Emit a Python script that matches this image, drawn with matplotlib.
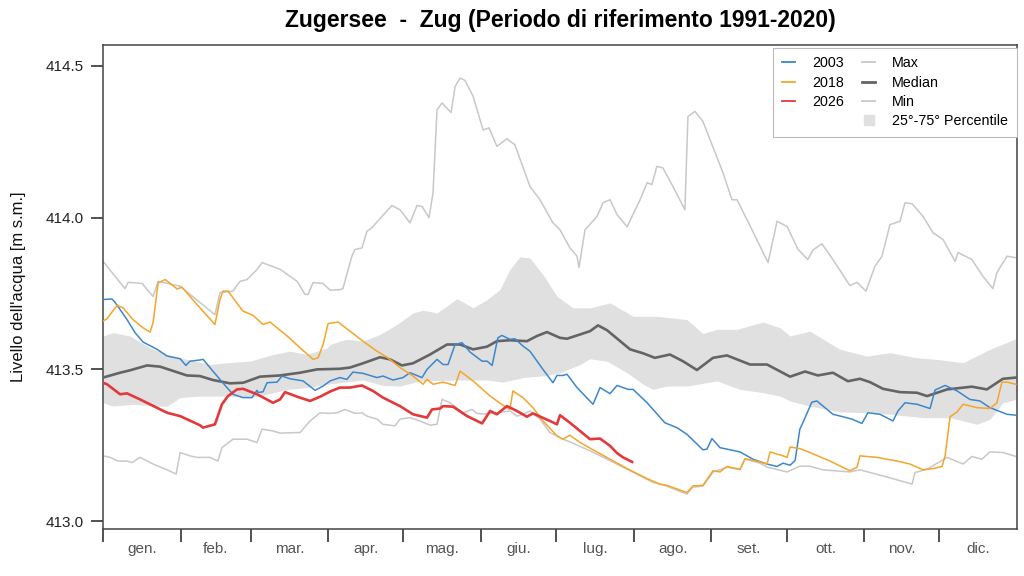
import matplotlib
matplotlib.use("Agg")
import matplotlib.pyplot as plt
from matplotlib.lines import Line2D
import numpy as np

plt.rcParams['font.family'] = ['Liberation Sans', 'DejaVu Sans']

# day of year (0 = 1 gennaio) and lake level [m s.m.]
max_days = [0, 8.8, 10, 15.6, 20, 22, 30.8, 38.8, 44.7, 46.7, 51.9, 54.7, 57.5, 61.5, 63.5,
            70.7, 77.5, 80.7, 81.9, 83.9, 87.9, 90.7, 94.6, 95.8, 99.4, 100.6, 103.4, 105.4,
            107.4, 111.4, 115.4, 118.6, 122.6, 125.4, 127.4, 130.2, 131.8, 133.4, 135.4, 139,
            140.6, 142.6, 144.6, 147.8, 151.8, 154.2, 157.3, 161.3, 164.5, 170.5, 174.5, 179.7,
            182.5, 186.5, 189.3, 190.1, 192.5, 197.3, 199.7, 202.5, 205.3, 209.3, 214.5, 217.3,
            219.2, 221.2, 223.6, 227.6, 232.4, 233.6, 236.4, 239.6, 247.6, 251.2, 253.2, 259.2,
            265.6, 269.2, 273.2, 277.6, 281.5, 283.5, 287.1, 291.5, 298.3, 301.1, 304.7, 308.3,
            311.1, 314.3, 318.3, 320.3, 323.1, 327.5, 331.5, 335.5, 340.3, 341.5, 347, 351.4,
            355.4, 357, 361, 364.6]
max_vals = [413.856, 413.766, 413.787, 413.783, 413.740, 413.790, 413.774, 413.720, 413.680,
            413.753, 413.758, 413.790, 413.796, 413.829, 413.852, 413.830, 413.790, 413.747,
            413.747, 413.786, 413.783, 413.761, 413.763, 413.766, 413.873, 413.895, 413.900,
            413.955, 413.967, 414.004, 414.040, 414.026, 413.983, 414.040, 414.037, 414.000,
            414.082, 414.355, 414.378, 414.346, 414.432, 414.460, 414.452, 414.400, 414.289,
            414.296, 414.235, 414.260, 414.240, 414.103, 414.059, 413.983, 413.960, 413.900,
            413.873, 413.836, 413.960, 414.004, 414.049, 414.059, 414.010, 413.970, 414.059,
            414.115, 414.109, 414.169, 414.164, 414.103, 414.026, 414.333, 414.350, 414.317,
            414.148, 414.059, 414.059, 413.960, 413.852, 413.988, 413.971, 413.895, 413.862,
            413.893, 413.914, 413.862, 413.776, 413.787, 413.758, 413.840, 413.873, 413.977,
            413.988, 414.049, 414.046, 414.004, 413.950, 413.928, 413.856, 413.885, 413.862,
            413.807, 413.766, 413.819, 413.873, 413.868]

min_days = [0, 2.8, 6, 9.6, 11.6, 14.8, 20, 25.6, 29.2, 30.8, 34.7, 37.5, 42.7, 45.9, 47.5,
            51.9, 57.5, 61.5, 63.5, 67.9, 70.7, 78.7, 82.7, 86.7, 90.7, 93.5, 96.7, 100.6,
            103.4, 105.4, 109.4, 111.8, 116.6, 118.6, 122.6, 126.6, 130.6, 133.4, 135.4, 138.6,
            143.8, 147.4, 149.4, 153.4, 157.3, 162.5, 165.3, 167.7, 170.5, 174.5, 178.5, 183.7,
            186.5, 195.7, 209.3, 219.6, 225.2, 233.2, 235.6, 239.6, 243.6, 249.2, 254.4, 256.4,
            262.4, 265.2, 273.2, 278.3, 282.3, 287.5, 298.3, 302.3, 311.5, 323.1, 324.3, 329.1,
            337.1, 343.5, 347.0, 351.0, 354.2, 359.4, 364.6]
min_vals = [413.215, 413.210, 413.198, 413.198, 413.193, 413.210, 413.188, 413.169, 413.155,
            413.226, 413.215, 413.210, 413.210, 413.198, 413.242, 413.270, 413.270, 413.259,
            413.303, 413.297, 413.290, 413.292, 413.330, 413.357, 413.355, 413.357, 413.368,
            413.355, 413.357, 413.346, 413.336, 413.319, 413.314, 413.336, 413.341, 413.330,
            413.316, 413.319, 413.401, 413.390, 413.357, 413.368, 413.355, 413.352, 413.357,
            413.363, 413.346, 413.352, 413.363, 413.336, 413.292, 413.270, 413.261, 413.227,
            413.171, 413.128, 413.115, 413.089, 413.112, 413.115, 413.161, 413.178, 413.169,
            413.204, 413.191, 413.178, 413.162, 413.181, 413.181, 413.169, 413.162, 413.169,
            413.149, 413.122, 413.160, 413.171, 413.210, 413.188, 413.213, 413.204, 413.228,
            413.226, 413.213]

med_days = [0, 6.8, 10.8, 17.6, 22.8, 33.5, 38.7, 43.9, 50.7, 56, 62.7, 70.7, 78.7, 85.5,
            94.6, 98.6, 103.8, 110.6, 114.6, 119.4, 123.8, 130.6, 137.4, 142.6, 147.8, 153.4,
            157.3, 162.5, 169.3, 173.3, 177.3, 182.5, 185.3, 190.5, 194.5, 197.7, 201.3, 210.5,
            215.7, 220.4, 226.4, 231.6, 237.2, 243.6, 249.2, 258.4, 265.2, 274.4, 280.4, 285.5,
            291.5, 297.5, 302.3, 306.3, 311.5, 318.3, 325.1, 329.1, 337.1, 347.0, 353.0, 359.4,
            364.6]
med_vals = [413.473, 413.489, 413.497, 413.513, 413.509, 413.480, 413.478, 413.465, 413.454,
            413.456, 413.476, 413.480, 413.489, 413.500, 413.502, 413.506, 413.520, 413.540,
            413.533, 413.513, 413.520, 413.549, 413.582, 413.582, 413.566, 413.575, 413.593,
            413.596, 413.593, 413.610, 413.623, 413.604, 413.601, 413.615, 413.626, 413.645,
            413.629, 413.566, 413.553, 413.538, 413.549, 413.527, 413.498, 413.538, 413.546,
            413.516, 413.516, 413.476, 413.493, 413.480, 413.489, 413.461, 413.469, 413.458,
            413.436, 413.425, 413.423, 413.412, 413.434, 413.443, 413.434, 413.469, 413.473]

p75_days = [0, 4, 10.8, 18.8, 25.6, 33.5, 42.7, 49.5, 58.7, 67.9, 74.7, 81.5, 89.5, 90.7,
            94.6, 97.4, 103.8, 110.6, 117.4, 123.8, 127.8, 133.4, 141.4, 147.8, 153.4, 158.5,
            162.5, 166.5, 170.5, 175.7, 181.3, 187.7, 194.5, 202.5, 211.7, 221.2, 233.2, 239.6,
            245.2, 253.2, 263.6, 270.4, 274.4, 282.3, 294.3, 305.1, 314.3, 325.1, 333.1, 343.5,
            354.2, 364.6]
p75_vals = [413.610, 413.621, 413.610, 413.571, 413.549, 413.533, 413.516, 413.522, 413.527,
            413.549, 413.560, 413.549, 413.571, 413.582, 413.593, 413.599, 413.593, 413.615,
            413.648, 413.686, 413.695, 413.686, 413.733, 413.703, 413.730, 413.763, 413.829,
            413.871, 413.867, 413.812, 413.741, 413.703, 413.703, 413.719, 413.675, 413.675,
            413.664, 413.618, 413.632, 413.632, 413.656, 413.637, 413.610, 413.626, 413.566,
            413.544, 413.555, 413.538, 413.533, 413.522, 413.566, 413.601]

p25_days = [0, 4, 12, 21.6, 25.6, 30.8, 38.7, 49.5, 58.7, 65.5, 73.5, 81.5, 89.5, 94.6,
            103.8, 111.8, 118.6, 126.6, 141.4, 153.4, 159.7, 167.7, 177.3, 182.5, 190.5, 194.5,
            201.3, 209.3, 215.7, 219.6, 225.2, 233.2, 245.2, 254.4, 262.4, 270.4, 274.4, 282.3,
            294.3, 305.1, 314.3, 327.5, 338.3, 349.0, 354.2, 359.4, 364.6]
p25_vals = [413.390, 413.379, 413.385, 413.379, 413.379, 413.407, 413.412, 413.412, 413.407,
            413.418, 413.434, 413.440, 413.451, 413.456, 413.465, 413.447, 413.445, 413.462,
            413.465, 413.465, 413.458, 413.473, 413.480, 413.489, 413.516, 413.535, 413.527,
            413.489, 413.451, 413.434, 413.445, 413.445, 413.462, 413.434, 413.425, 413.412,
            413.396, 413.379, 413.360, 413.357, 413.352, 413.341, 413.341, 413.319, 413.336,
            413.390, 413.401]

y2003_days = [0, 3.6, 4.8, 9.6, 12.8, 16, 21.6, 25.6, 30.8, 33.1, 34.7, 38.7, 40, 43.9, 49.5,
              51.9, 55.9, 59.5, 61.5, 61.9, 63.9, 65.5, 69.5, 71.5, 74.7, 79.9, 84.7, 87.9,
              90.7, 94.6, 97.4, 99.8, 103.8, 109.4, 111.8, 115.8, 119.8, 122.6, 127.4, 129.4,
              133.4, 135.8, 137.8, 140.6, 143.4, 146.6, 151.4, 153.4, 155.4, 157.7, 159.3,
              162.5, 164.5, 167.7, 170.5, 175.7, 179.7, 181.3, 183.7, 185.3, 189.3, 195.7,
              198.5, 202.5, 205.3, 207.7, 209.7, 211.7, 217.3, 224.4, 229.2, 233.2, 239.6,
              241.2, 243.2, 246.4, 250.4, 254.4, 259.6, 265.2, 269.2, 271.6, 274.4, 276.4,
              278.3, 279.5, 283.1, 285.1, 291.5, 295.5, 299.1, 303.1, 305.5, 310.3, 315.5,
              317.5, 320.3, 325.1, 330.3, 332.3, 336.3, 341.1, 346.2, 350.2, 354.2, 361.0,
              364.6]
y2003_vals = [413.730, 413.732, 413.721, 413.664, 413.621, 413.590, 413.566, 413.544, 413.535,
              413.513, 413.527, 413.531, 413.533, 413.494, 413.440, 413.418, 413.407, 413.407,
              413.431, 413.424, 413.426, 413.456, 413.458, 413.478, 413.469, 413.462, 413.431,
              413.445, 413.462, 413.473, 413.467, 413.491, 413.487, 413.473, 413.478, 413.465,
              413.473, 413.489, 413.473, 413.500, 413.533, 413.516, 413.516, 413.582, 413.588,
              413.557, 413.527, 413.527, 413.513, 413.604, 413.612, 413.599, 413.601, 413.577,
              413.560, 413.500, 413.456, 413.480, 413.480, 413.484, 413.440, 413.385, 413.440,
              413.420, 413.447, 413.440, 413.434, 413.434, 413.390, 413.324, 413.308, 413.286,
              413.235, 413.237, 413.272, 413.242, 413.235, 413.228, 413.204, 413.188, 413.180,
              413.191, 413.184, 413.200, 413.303, 413.324, 413.392, 413.396, 413.352, 413.344,
              413.336, 413.322, 413.357, 413.352, 413.330, 413.363, 413.390, 413.385, 413.371,
              413.432, 413.447, 413.429, 413.401, 413.396, 413.374, 413.352, 413.349]

y2018_days = [0, 1.6, 5.6, 8, 12, 16, 18.8, 20, 22, 24.8, 29.6, 31.5, 37.5, 44.7, 46.7, 47.9,
              49.9, 55.9, 59.9, 63.9, 66.7, 73.5, 78.7, 83.9, 85.9, 87.9, 89.9, 93.9, 98.6,
              103.8, 109.4, 113.8, 118.6, 123.8, 127.8, 129.4, 131.8, 135.8, 140.6, 142.6,
              147.8, 154.6, 159.7, 162.5, 163.7, 167.7, 171.7, 175.7, 181.3, 183.7, 186.5,
              190.5, 195.7, 202.5, 209.3, 217.3, 222.4, 225.2, 233.2, 235.6, 239.6, 243.6,
              246.4, 249.2, 254.4, 256.4, 262.4, 265.2, 266.4, 271.6, 273.2, 274.4, 278.3,
              282.3, 290.3, 298.3, 301.1, 302.3, 309.1, 317.1, 322.3, 327.5, 331.5, 335.1,
              336.3, 338.3, 341.1, 343.5, 349.0, 354.2, 357.0, 359.0, 361.0, 364.6]
y2018_vals = [413.659, 413.667, 413.711, 413.703, 413.664, 413.637, 413.623, 413.654, 413.785,
              413.796, 413.765, 413.771, 413.714, 413.648, 413.730, 413.758, 413.758, 413.692,
              413.678, 413.648, 413.656, 413.610, 413.571, 413.533, 413.538, 413.582, 413.651,
              413.656, 413.626, 413.593, 413.560, 413.538, 413.506, 413.478, 413.451, 413.467,
              413.451, 413.458, 413.447, 413.494, 413.462, 413.412, 413.382, 413.368, 413.429,
              413.407, 413.374, 413.330, 413.281, 413.270, 413.283, 413.259, 413.235, 413.204,
              413.173, 413.140, 413.122, 413.118, 413.094, 413.116, 413.118, 413.166, 413.162,
              413.180, 413.171, 413.206, 413.195, 413.188, 413.228, 413.215, 413.210, 413.244,
              413.239, 413.226, 413.198, 413.166, 413.177, 413.215, 413.210, 413.198, 413.188,
              413.169, 413.173, 413.180, 413.215, 413.344, 413.360, 413.385, 413.374, 413.371,
              413.390, 413.458, 413.458, 413.451]

y2026_days = [0, 1.6, 6.8, 9.6, 14.8, 25.6, 30.8, 38.7, 39.9, 44.7, 47.5, 49.9, 53.5, 55.9,
              61.5, 67.9, 70.7, 72.7, 77.5, 82.7, 86.7, 90.7, 94.6, 98.6, 103.4, 107.8, 111.8,
              118.6, 123.8, 129.4, 131.4, 134.6, 135.8, 139.8, 145.4, 151.4, 154.6, 157.3,
              161.3, 165.3, 169.3, 171.7, 178.5, 181.3, 182.5, 186.5, 190.5, 194.5, 198.5,
              202.5, 205.3, 207.7, 211.3]
y2026_vals = [413.456, 413.451, 413.418, 413.421, 413.401, 413.357, 413.346, 413.316, 413.308,
              413.319, 413.385, 413.412, 413.434, 413.436, 413.418, 413.390, 413.401, 413.425,
              413.410, 413.396, 413.410, 413.427, 413.440, 413.440, 413.447, 413.429, 413.407,
              413.379, 413.352, 413.341, 413.368, 413.371, 413.379, 413.377, 413.346, 413.322,
              413.363, 413.352, 413.379, 413.363, 413.344, 413.355, 413.330, 413.319, 413.349,
              413.324, 413.297, 413.270, 413.272, 413.248, 413.224, 413.210, 413.195]

month_starts = [0, 31, 59, 90, 120, 151, 181, 212, 243, 273, 304, 334, 365]
month_labels = ['gen.', 'feb.', 'mar.', 'apr.', 'mag.', 'giu.',
                'lug.', 'ago.', 'set.', 'ott.', 'nov.', 'dic.']

fig = plt.figure(figsize=(10.24, 5.76), dpi=100)
ax = fig.add_axes([0.1006, 0.0816, 0.8925, 0.8403])

# percentile band on a common day grid
grid = np.union1d(p25_days, p75_days)
ax.fill_between(grid, np.interp(grid, p25_days, p25_vals), np.interp(grid, p75_days, p75_vals),
                color='#e0e0e0', linewidth=0, zorder=1)

ax.plot(max_days, max_vals, color='#c8c8c8', lw=1.1, zorder=2)
ax.plot(min_days, min_vals, color='#c8c8c8', lw=1.1, zorder=2)
ax.plot(med_days, med_vals, color='#646464', lw=1.9, zorder=3)
ax.plot(y2003_days, y2003_vals, color='#3d87cb', lw=1.1, zorder=4)
ax.plot(y2018_days, y2018_vals, color='#f5a52a', lw=1.1, zorder=4)
ax.plot(y2026_days, y2026_vals, color='#e3393b', lw=1.9, zorder=5)

ax.set_xlim(0, 365)
ax.set_ylim(412.974, 414.569)

ax.set_yticks([413.0, 413.5, 414.0, 414.5])
ax.set_yticklabels(['413.0', '413.5', '414.0', '414.5'])
ax.tick_params(axis='y', direction='out', length=9, width=1.2, pad=5,
               labelsize=11, color='#333333', labelcolor='#222222')

ax.set_xticks(month_starts[:-1])
ax.set_xticklabels([])
mids = [(month_starts[i] + month_starts[i + 1]) / 2 for i in range(12)]
ax.set_xticks(mids, minor=True)
ax.set_xticklabels(month_labels, minor=True)
ax.tick_params(axis='x', which='major', direction='out', length=9.5, width=1.2, color='#333333')
ax.tick_params(axis='x', which='minor', length=0, pad=9.5, labelsize=11, labelcolor='#555555')

for s in ax.spines.values():
    s.set_color('#444444')
    s.set_linewidth(1.1)

ax.set_ylabel("Livello dell'acqua [m s.m.]", fontsize=12, color='#111111', labelpad=14)
ax.set_title('Zugersee  -  Zug (Periodo di riferimento 1991-2020)',
             fontsize=16.5, fontweight='bold', pad=13)

handles = [
    Line2D([], [], color='#3d87cb', lw=1.3),
    Line2D([], [], color='#f5a52a', lw=1.3),
    Line2D([], [], color='#e3393b', lw=1.3),
    Line2D([], [], color='none'),
    Line2D([], [], color='#c8c8c8', lw=1.3),
    Line2D([], [], color='#646464', lw=2.0),
    Line2D([], [], color='#c8c8c8', lw=1.3),
    Line2D([], [], marker='s', color='#e0e0e0', linestyle='none', markersize=7.5),
]
labels = ['2003', '2018', '2026', '', 'Max', 'Median', 'Min', '25°-75° Percentile']
leg = ax.legend(handles, labels, ncol=2, loc='upper right', bbox_to_anchor=(1.0, 0.994),
                fontsize=10.3, handlelength=0.9, handletextpad=1.2, columnspacing=1.3,
                labelspacing=0.37, borderpad=0.6, borderaxespad=0.0, fancybox=False,
                framealpha=1, edgecolor='#bbbbbb')
leg.get_frame().set_linewidth(0.8)

fig.savefig('out.png', dpi=100)
